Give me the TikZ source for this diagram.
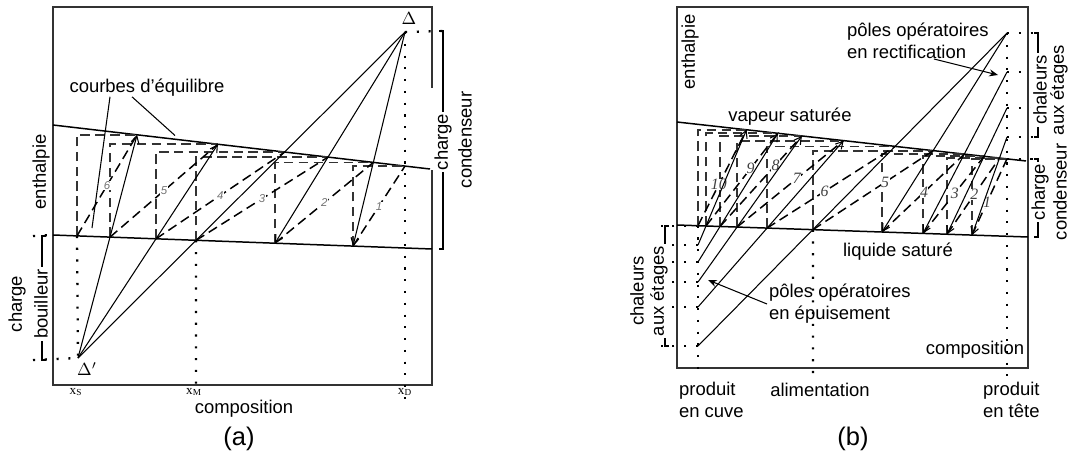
\documentclass[tikz,border=0pt]{standalone}
\usepackage{fontspec}
\setmainfont{Liberation Sans}
\newfontfamily\serifnum{Liberation Serif}
\usetikzlibrary{arrows.meta}

\begin{document}
\begin{tikzpicture}[x=0.02cm,y=-0.02cm,>={Straight Barb[length=4pt,width=4.5pt]},
  txt/.style={font=\fontsize{10.5}{12.5}\selectfont,inner sep=1pt},
  lbl/.style={txt,rotate=90},
  frm/.style={line width=1.1pt,draw=black!80},
  eqc/.style={line width=0.85pt},
  opl/.style={line width=0.6pt},
  tie/.style={line width=0.85pt,dash pattern=on 5.5pt off 3pt},
  aux/.style={line width=1pt,dash pattern=on 5.5pt off 3pt,draw=black!80},
  dots/.style={line width=1.3pt,dash pattern=on 1.2pt off 5.5pt},
  brk/.style={line width=0.6pt},
  numa/.style={font=\fontsize{6.5}{7}\selectfont\itshape,text=black!55,fill=white,inner sep=0.3pt},
  numb/.style={font=\fontsize{9}{10}\serifnum\itshape,text=black!75,fill=white,inner sep=0.3pt},
  sym/.style={font=\fontsize{10}{11}\selectfont,inner sep=1pt},
  xlab/.style={font=\fontsize{7.5}{8}\serifnum,fill=white,inner sep=0.5pt}]
\useasboundingbox (0,0) rectangle (1078,456);

\coordinate (va) at (53,125);
\coordinate (vb) at (430,169);
\coordinate (la) at (53,235);
\coordinate (lb) at (432,249);
\coordinate (D) at (405,32);
\coordinate (Dp) at (78,358);
\coordinate (xdb) at (405,406);
\coordinate (xmb) at (196,386);
\coordinate (L1) at (353,246.1);
\coordinate (L2) at (275,243.2);
\coordinate (M) at (intersection of Dp--D and la--lb);
\coordinate (L4) at (156,238.8);
\coordinate (L5) at (110,237.1);
\coordinate (L6) at (77,235.9);
\coordinate (V1) at (intersection of va--vb and D--xdb);
\coordinate (V2) at (intersection of D--L1 and va--vb);
\coordinate (V3) at (intersection of D--L2 and va--vb);
\coordinate (V4) at (intersection of D--M and va--vb);
\coordinate (V5) at (intersection of Dp--L4 and va--vb);
\coordinate (V6) at (intersection of Dp--L5 and va--vb);
\coordinate (cd1) at (443,31);
\coordinate (cd2) at (443,249);
\coordinate (bb1) at (42,236);
\coordinate (bb2) at (42,360);
\coordinate (cq1) at (92,228);
\coordinate (cq2) at (175,135.5);

\draw[frm] (432,88) -- (432,7) -- (53,7) -- (53,385) -- (432,385) -- (432,170);
\draw[eqc] (va) -- (vb);
\draw[eqc] (la) -- (lb);
\draw[dots] (D) -- (xdb);
\draw[dots] (M) -- (xmb);
\draw[dots] (L6) -- (Dp);
\draw[dots] (D) -- (cd1);
\draw[dots] (bb1) ++(-9,0) -- (la);
\draw[dots] (bb2) ++(-9,0) -- (Dp);
\draw[brk] (cd1) ++(-4,0) -- (cd1) -- (cd2) -- ++(-4,0);
\draw[brk] (bb1) ++(4,0) -- (bb1) -- (bb2) -- ++(4,0);
\foreach \a/\b in {L1/V1,L2/V2,M/V3,L4/V4,L5/V5,L6/V6}
  \draw[aux] (\a) |- (\b);
\foreach \a/\b/\n in {L1/V1/1,L2/V2/2,M/V3/3,L4/V4/4,L5/V5/5,L6/V6/6}
  \draw[tie] (\a) -- node[numa,pos=.5] (na\n) {\n} (\b);
\draw[opl,->] (D) -- (L1);
\draw[opl,->] (D) -- (L2);
\draw[opl] (D) -- (Dp);
\draw[opl,->] (Dp) -- (V5);
\draw[opl,->] (Dp) -- (V6);

\node[txt] (ceq) at (147,88) {courbes d'équilibre};
\draw[opl] (ceq.south) ++(-37,-2) -- (cq1);
\draw[opl] (ceq.south) ++(-15,-2) -- (cq2);
\node[lbl] (ent1) at (41,172) {enthalpie};
\node[lbl] (chg1) at (17,304) {charge};
\node[lbl,fill=white] (bou) at (41,304) {bouilleur};
\node[lbl,fill=white] (chg2) at (443,142) {charge};
\node[lbl] (cnd1) at (465,140) {condenseur};
\node[sym] (dl) at (409,18) {$\Delta$};
\node[sym] (dlp) at (87,369) {$\Delta'$};
\node[xlab] (xs) at (76,392) {x\textsubscript{S}};
\node[xlab] (xm) at (194,392) {x\textsubscript{M}};
\node[xlab] (xd) at (405,392) {x\textsubscript{D}};
\node[txt] (cmp1) at (244,409) {composition};
\node[font=\fontsize{14.5}{16}\selectfont] (pa) at (239,439) {(a)};

\coordinate (wa) at (677,122);
\coordinate (wb) at (1026,161);
\coordinate (ka) at (677,225);
\coordinate (kb) at (1028,237);
\coordinate (R4) at (1007,33);
\coordinate (R3) at (1007,72);
\coordinate (R2) at (1007,108);
\coordinate (R1) at (1007,137);
\coordinate (Q5) at (698,346);
\coordinate (Q6) at (698,307);
\coordinate (Q7) at (698,282);
\coordinate (Q8) at (698,262);
\coordinate (Q9) at (698,245);
\coordinate (xwb) at (698,377);
\coordinate (xfb) at (813,377);
\coordinate (xdb2) at (1007,377);
\coordinate (K1) at (972,235.1);
\coordinate (K2) at (947,234.2);
\coordinate (K3) at (923,233.4);
\coordinate (K4) at (882,232.0);
\coordinate (K5) at (intersection of R4--Q5 and ka--kb);
\coordinate (K6) at (767,228.1);
\coordinate (K7) at (737,227.1);
\coordinate (K8) at (720,226.5);
\coordinate (K9) at (706,226.0);
\coordinate (K10) at (698,225.7);
\coordinate (W1) at (intersection of wa--wb and R4--xdb2);
\coordinate (W2) at (intersection of R1--K1 and wa--wb);
\coordinate (W3) at (intersection of R2--K2 and wa--wb);
\coordinate (W4) at (intersection of R3--K3 and wa--wb);
\coordinate (W5) at (intersection of R4--K4 and wa--wb);
\coordinate (W6) at (intersection of R4--Q5 and wa--wb);
\coordinate (W7) at (intersection of Q6--K6 and wa--wb);
\coordinate (W8) at (intersection of Q7--K7 and wa--wb);
\coordinate (W9) at (intersection of Q8--K8 and wa--wb);
\coordinate (W10) at (intersection of Q9--K9 and wa--wb);
\coordinate (bl1) at (665,226);
\coordinate (bl2) at (665,346);
\coordinate (br1) at (1038,33);
\coordinate (br2) at (1038,137);
\coordinate (br3) at (1038,159);
\coordinate (br4) at (1038,237);
\coordinate (pr1) at (998,75);
\coordinate (pe1) at (708,280);

\draw[frm] (677,7) rectangle (1028,368);
\draw[eqc] (wa) -- (wb);
\draw[eqc] (ka) -- (kb);
\draw[dots] (K10) -- (xwb);
\draw[dots] (K5) -- (xfb);
\draw[dots] (R4) -- (xdb2);
\foreach \p in {K10,Q9,Q8,Q7,Q6,Q5}
  \draw[dots] (\p) -- ++(-38,0);
\foreach \p in {R4,R3,R2,R1,W1}
  \draw[dots] (\p) -- ++(31,0);
\draw[brk] (bl1) ++(4,0) -- (bl1) -- (bl2) -- ++(4,0);
\draw[brk] (br1) ++(-4,0) -- (br1) -- (br2) -- ++(-4,0);
\draw[brk] (br3) ++(-4,0) -- (br3) -- (br4) -- ++(-4,0);
\foreach \a/\b in {K1/W1,K2/W2,K3/W3,K4/W4,K5/W5,K6/W6,K7/W7,K8/W8,K9/W9,K10/W10}
  \draw[aux] (\a) |- (\b);
\foreach \a/\b/\n/\p in {K1/W1/1/.43,K2/W2/2/.52,K3/W3/3/.52,K4/W4/4/.51,K5/W5/5/.6,K6/W6/6/.45,K7/W7/7/.56,K8/W8/8/.68,K9/W9/9/.62,K10/W10/10/.43}
  \draw[tie] (\a) -- node[numb,pos=\p] (nb\n) {\n} (\b);
\draw[opl,->] (R1) -- (K1);
\draw[opl,->] (R2) -- (K2);
\draw[opl,->] (R3) -- (K3);
\draw[opl,->] (R4) -- (K4);
\draw[opl] (R4) -- (Q5);
\draw[opl,->] (Q6) -- (W7);
\draw[opl,->] (Q7) -- (W8);
\draw[opl,->] (Q8) -- (W9);
\draw[opl,->] (Q9) -- (W10);

\node[lbl] (ent2) at (690,52) {enthalpie};
\node[txt] (vsat) at (790,117) {vapeur saturée};
\node[txt] (lsat) at (898,252) {liquide saturé};
\node[txt,align=left,anchor=west] (prc) at (845,41) {pôles opératoires\\en rectification};
\draw[opl,-{Stealth[length=5pt,width=4pt]}] (prc.south) ++(16,-2) -- (pr1);
\node[txt,align=left,anchor=west] (pep) at (767,304) {pôles opératoires\\en épuisement};
\draw[opl,-{Stealth[length=5pt,width=4pt]}] (pep.west) -- (pe1);
\node[lbl] (chl1) at (637,291) {chaleurs};
\node[lbl,fill=white] (aux1) at (659,291) {aux étages};
\node[lbl,fill=white] (chl2) at (1040,90) {chaleurs};
\node[lbl] (aux2) at (1059,90) {aux étages};
\node[lbl,fill=white] (chg3) at (1040,192) {charge};
\node[lbl] (cnd2) at (1060,192) {condenseur};
\node[txt] (cmp2) at (975,350) {composition};
\node[txt,align=left,anchor=west] (pcv) at (677,400) {produit\\en cuve};
\node[txt] (alim) at (820,390) {alimentation};
\node[txt,align=left,anchor=west] (ptt) at (981,400) {produit\\en tête};
\node[font=\fontsize{14.5}{16}\selectfont] (pb) at (853,439) {(b)};
\end{tikzpicture}
\end{document}
